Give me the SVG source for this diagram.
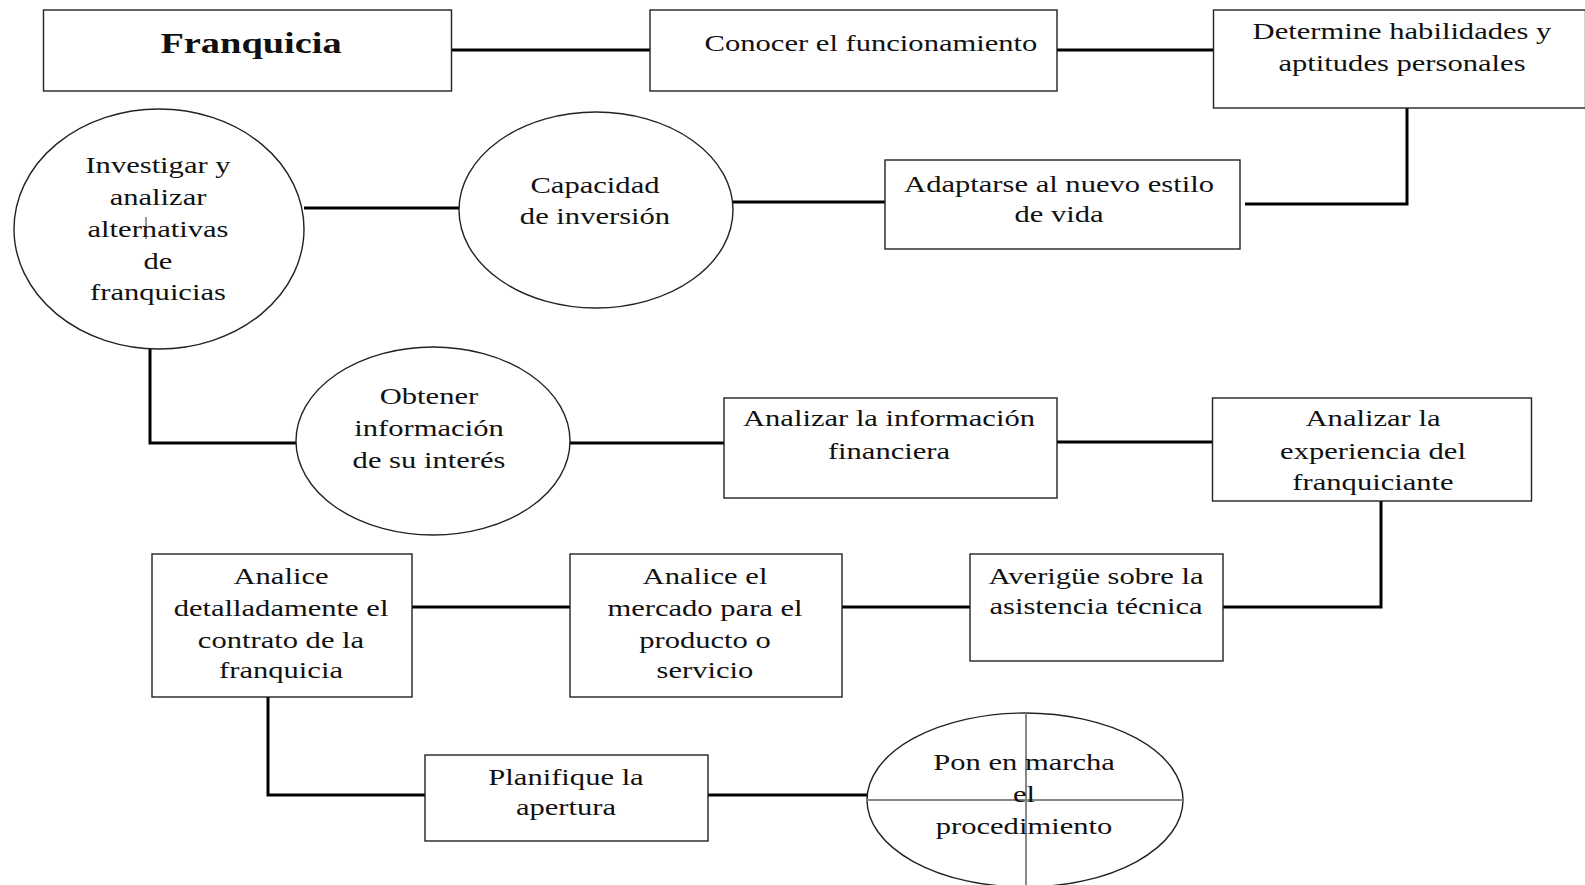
<svg xmlns="http://www.w3.org/2000/svg" width="1585" height="885" viewBox="0 0 1585 885">
<style>
.box{fill:#fff;stroke:#222;stroke-width:1.4}
.t{font-family:"Liberation Serif","Times New Roman",serif;font-size:23px;fill:#111;text-anchor:middle}
.tb{font-family:"Liberation Serif","Times New Roman",serif;font-size:30px;font-weight:bold;fill:#111;text-anchor:middle}
.c{fill:none;stroke:#000;stroke-width:3}
.cross{stroke:#888;stroke-width:2}
</style>
<rect width="1585" height="885" fill="#fff"/>
<g id="connectors">
<line class="c" x1="451" y1="50" x2="650" y2="50"/>
<line class="c" x1="1057" y1="50" x2="1213" y2="50"/>
<polyline class="c" points="1407,108 1407,204 1245,204"/>
<line class="c" x1="733" y1="202" x2="887" y2="202"/>
<line class="c" x1="304" y1="208" x2="459" y2="208"/>
<polyline class="c" points="150,348 150,443 296,443"/>
<line class="c" x1="569" y1="443" x2="724" y2="443"/>
<line class="c" x1="1057" y1="442" x2="1213" y2="442"/>
<polyline class="c" points="1381,501 1381,607 1223,607"/>
<line class="c" x1="842" y1="607" x2="970" y2="607"/>
<line class="c" x1="412" y1="607" x2="570" y2="607"/>
<polyline class="c" points="268,697 268,795 425,795"/>
<line class="c" x1="708" y1="795" x2="867" y2="795"/>
</g>
<g id="franquicia">
<rect class="box" x="43.5" y="10" width="408" height="81"/>
<text class="tb" transform="translate(251,0) scale(1.28,1)"><tspan x="0" y="53">Franquicia</tspan></text>
</g>
<g id="conocer">
<rect class="box" x="650" y="10" width="407" height="81"/>
<text class="t" transform="translate(871,0) scale(1.33,1)"><tspan x="0" y="51">Conocer el funcionamiento</tspan></text>
</g>
<g id="determine">
<rect class="box" x="1213.5" y="10" width="372" height="98"/>
<text class="t" transform="translate(1402,0) scale(1.33,1)"><tspan x="0" y="39">Determine habilidades y</tspan><tspan x="0" y="71">aptitudes personales</tspan></text>
</g>
<g id="adaptarse">
<rect class="box" x="885" y="160" width="355" height="89"/>
<text class="t" transform="translate(1059,0) scale(1.33,1)"><tspan x="0" y="192">Adaptarse al nuevo estilo</tspan><tspan x="0" y="222">de vida</tspan></text>
</g>
<g id="capacidad">
<ellipse class="box" cx="596" cy="210" rx="137" ry="98"/>
<text class="t" transform="translate(595,0) scale(1.33,1)"><tspan x="0" y="193">Capacidad</tspan><tspan x="0" y="224">de inversión</tspan></text>
</g>
<g id="investigar">
<ellipse class="box" cx="159" cy="229" rx="145" ry="120"/>
<text class="t" transform="translate(158,0) scale(1.33,1)"><tspan x="0" y="173">Investigar y</tspan><tspan x="0" y="205">analizar</tspan><tspan x="0" y="237">alternativas</tspan><tspan x="0" y="269">de</tspan><tspan x="0" y="300">franquicias</tspan></text>
<line x1="146" y1="217" x2="146" y2="239" stroke="#333" stroke-width="1"/>
</g>
<g id="obtener">
<ellipse class="box" cx="433" cy="441" rx="137" ry="94"/>
<text class="t" transform="translate(429,0) scale(1.33,1)"><tspan x="0" y="404">Obtener</tspan><tspan x="0" y="436">información</tspan><tspan x="0" y="468">de su interés</tspan></text>
</g>
<g id="analizar-info">
<rect class="box" x="724" y="398" width="333" height="100"/>
<text class="t" transform="translate(889,0) scale(1.33,1)"><tspan x="0" y="426">Analizar la información</tspan><tspan x="0" y="459">financiera</tspan></text>
</g>
<g id="analizar-exp">
<rect class="box" x="1212.5" y="398" width="319" height="103"/>
<text class="t" transform="translate(1373,0) scale(1.33,1)"><tspan x="0" y="426">Analizar la</tspan><tspan x="0" y="459">experiencia del</tspan><tspan x="0" y="490">franquiciante</tspan></text>
</g>
<g id="averigue">
<rect class="box" x="970" y="554" width="253" height="107"/>
<text class="t" transform="translate(1096,0) scale(1.33,1)"><tspan x="0" y="584">Averigüe sobre la</tspan><tspan x="0" y="614">asistencia técnica</tspan></text>
</g>
<g id="mercado">
<rect class="box" x="570" y="554" width="272" height="143"/>
<text class="t" transform="translate(705,0) scale(1.33,1)"><tspan x="0" y="584">Analice el</tspan><tspan x="0" y="616">mercado para el</tspan><tspan x="0" y="648">producto o</tspan><tspan x="0" y="678">servicio</tspan></text>
</g>
<g id="contrato">
<rect class="box" x="152" y="554" width="260" height="143"/>
<text class="t" transform="translate(281,0) scale(1.33,1)"><tspan x="0" y="584">Analice</tspan><tspan x="0" y="616">detalladamente el</tspan><tspan x="0" y="648">contrato de la</tspan><tspan x="0" y="678">franquicia</tspan></text>
</g>
<g id="planifique">
<rect class="box" x="425" y="755" width="283" height="86"/>
<text class="t" transform="translate(566,0) scale(1.33,1)"><tspan x="0" y="785">Planifique la</tspan><tspan x="0" y="815">apertura</tspan></text>
</g>
<g id="pon">
<ellipse class="box" cx="1025" cy="800" rx="158" ry="87"/>
<line class="cross" x1="867" y1="800" x2="1183" y2="800"/>
<line class="cross" x1="1026" y1="713" x2="1026" y2="885"/>
<text class="t" transform="translate(1024,0) scale(1.33,1)"><tspan x="0" y="770">Pon en marcha</tspan><tspan x="0" y="802">el</tspan><tspan x="0" y="834">procedimiento</tspan></text>
</g>
</svg>
